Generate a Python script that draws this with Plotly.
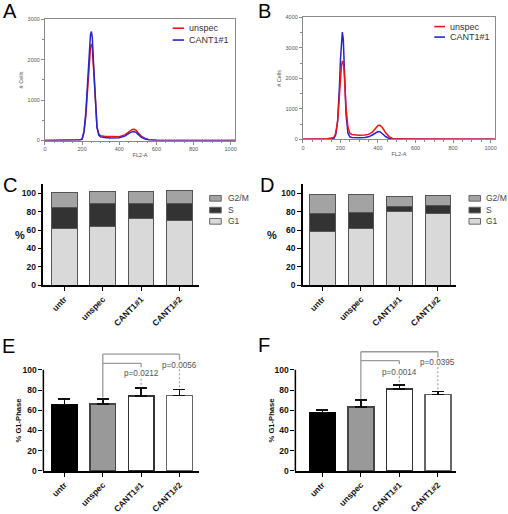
import plotly.graph_objects as go

W, H = 508, 514
FONT = "Arial, Liberation Sans, sans-serif"

# ---------------- data ----------------
# Panel A histogram (FL2-A vs # cells)
hist_a_x = [0, 40, 50, 100, 150, 190, 200, 210, 220, 230, 240, 245, 250, 255, 260, 270, 280, 290,
            300, 320, 350, 400, 430, 450, 460, 470, 480, 490, 500, 520, 540, 560, 600, 650, 700, 800, 1000, 1023]
hist_a_unspec = [0, 0, 10, 12, 12, 15, 40, 200, 600, 1300, 2000, 2300, 2390, 2300, 1900, 1000, 350, 160,
                 120, 105, 95, 95, 140, 210, 250, 275, 280, 260, 200, 100, 50, 20, 8, 3, 0, 0, 0, 0]
hist_a_cant = [0, 0, 8, 10, 10, 12, 35, 220, 700, 1500, 2300, 2620, 2700, 2550, 2050, 1000, 320, 130,
               90, 75, 65, 70, 110, 170, 200, 220, 225, 205, 160, 80, 40, 15, 5, 2, 0, 0, 0, 0]
# Panel B histogram
hist_b_x = [0, 100, 130, 150, 165, 175, 185, 190, 195, 200, 205, 210, 215, 220, 225, 230, 240, 250, 260,
            280, 300, 330, 350, 370, 380, 390, 400, 410, 420, 430, 440, 460, 480, 500, 600, 800, 1023]
hist_b_unspec = [0, 0, 20, 40, 60, 200, 600, 1000, 1500, 2000, 2400, 2550, 2550, 2200, 1600, 1000, 400, 200, 160,
                 140, 135, 140, 160, 230, 300, 380, 450, 460, 410, 320, 220, 80, 20, 5, 0, 0, 0]
hist_b_cant = [0, 0, 5, 10, 30, 150, 600, 1100, 1800, 2600, 3200, 3520, 3300, 2500, 1500, 800, 200, 80, 60,
               50, 50, 55, 80, 140, 180, 220, 255, 250, 210, 150, 90, 25, 5, 0, 0, 0, 0]
hist_series = ["unspec", "CANT1#1"]
hist_colors = ["#f01414", "#2626cc"]

conditions = ["untr", "unspec", "CANT1#1", "CANT1#2"]
phases = ["G1", "S", "G2/M"]
phase_colors = ["#d9d9d9", "#333333", "#a3a3a3"]

# Panel C (% of cells per phase)
c_g1 = [62.0, 63.7, 73.0, 70.5]
c_s = [22.7, 25.3, 16.0, 18.1]
c_g2m = [16.0, 12.4, 12.8, 13.9]
# Panel D
d_g1 = [58.4, 61.2, 80.4, 78.0]
d_s = [19.6, 17.4, 5.4, 8.5]
d_g2m = [20.2, 19.6, 11.0, 11.4]

# Panel E / F (% G1-phase, mean and SD)
e_mean = [65.7, 66.3, 74.1, 74.8]
e_err = [5.2, 4.9, 7.8, 5.8]
f_mean = [57.9, 63.4, 81.2, 75.7]
f_err = [2.3, 6.5, 3.9, 2.9]
e_pvalues = ["p=0.0212", "p=0.0056"]
f_pvalues = ["p=0.0014", "p=0.0395"]
compare_ref = "unspec"
compare_to = ["CANT1#1", "CANT1#2"]

bar_fill = ["#000000", "#999999", "#ffffff", "#ffffff"]
bar_edge = ["#000000", "#444444", "#333333", "#666666"]


def fx(px):
    return px / W


def fy(py):
    return 1 - py / H


fig = go.Figure()

# ---------------- histograms ----------------
for ax, xs, series, order in [
    ("", hist_a_x, [hist_a_unspec, hist_a_cant], [0, 1]),
    ("2", hist_b_x, [hist_b_unspec, hist_b_cant], [1, 0]),
]:
    for i in order:
        fig.add_trace(go.Scatter(x=xs, y=series[i], mode="lines", name=hist_series[i],
                                 line=dict(color=hist_colors[i], width=1.5),
                                 xaxis="x" + ax, yaxis="y" + ax, showlegend=False))

# ---------------- stacked bars C / D ----------------
for ax, vals in [("3", [c_g1, c_s, c_g2m]), ("4", [d_g1, d_s, d_g2m])]:
    for name, v, col in zip(phases, vals, phase_colors):
        fig.add_trace(go.Bar(x=conditions, y=v, name=name, width=0.67,
                             marker=dict(color=col, line=dict(color="#555555", width=1)),
                             xaxis="x" + ax, yaxis="y" + ax, showlegend=False))

# ---------------- bars with error E / F ----------------
for ax, m, e in [("5", e_mean, e_err), ("6", f_mean, f_err)]:
    fig.add_trace(go.Bar(x=conditions, y=m, width=0.67,
                         marker=dict(color=bar_fill, line=dict(color=bar_edge, width=1.5)),
                         error_y=dict(type="data", array=e, arrayminus=[0] * len(e), symmetric=False,
                                      color="#111111", thickness=1.5, width=6),
                         xaxis="x" + ax, yaxis="y" + ax, showlegend=False))

# ---------------- axes ----------------
tickfont_small = dict(family=FONT, size=5.5, color="#555555")


def hist_axes(xdom, ydom, ymax, anchor_x, anchor_y):
    xa = dict(domain=xdom, range=[0, 1024], anchor=anchor_y, tickvals=[0, 200, 400, 600, 800, 1000],
              showline=True, mirror=True, linecolor="#8a8a8a", linewidth=1, ticks="outside", ticklen=3,
              tickcolor="#8a8a8a", tickfont=tickfont_small, showgrid=False, zeroline=False,
              minor=dict(ticks="outside", ticklen=1.5, dtick=50, tickcolor="#8a8a8a"),
              title=dict(text="FL2-A", font=tickfont_small, standoff=2))
    ya = dict(domain=ydom, range=[0, ymax], anchor=anchor_x, dtick=1000,
              showline=True, mirror=True, linecolor="#8a8a8a", linewidth=1, ticks="outside", ticklen=3,
              tickcolor="#8a8a8a", tickfont=tickfont_small, showgrid=False, zeroline=False,
              minor=dict(ticks="outside", ticklen=1.5, dtick=500, tickcolor="#8a8a8a"),
              title=dict(text="# Cells", font=tickfont_small, standoff=3))
    return xa, ya


xa1, ya1 = hist_axes([fx(43.3), fx(235)], [fy(140), fy(16.7)], 3000, "x", "y")
xa2, ya2 = hist_axes([fx(303.3), fx(497)], [fy(138.7), fy(14.7)], 4000, "x2", "y2")

boldfont = dict(family=FONT, size=8.5, color="#111111", weight="bold")


def cat_xaxis(xdom, rng, anchor_y):
    return dict(domain=xdom, range=rng, anchor=anchor_y, type="category", tickangle=-45,
                showline=True, linecolor="#000000", linewidth=1.5, ticks="outside", ticklen=4,
                tickwidth=1.2, tickcolor="#000000", tickfont=boldfont, showgrid=False, zeroline=False)


def val_yaxis(ydom, rng, anchor_x, showline=True):
    return dict(domain=ydom, range=rng, anchor=anchor_x, tickvals=[0, 20, 40, 60, 80, 100],
                showline=showline, linecolor="#000000", linewidth=1.5, ticks="outside", ticklen=4,
                tickwidth=1.2, tickcolor="#000000", tickfont=boldfont, showgrid=False, zeroline=False)


xa3 = cat_xaxis([fx(41.7), fx(199)], [-0.55, 3.52], "y3")
ya3 = val_yaxis([fy(287.3), fy(184.3)], [0, 110], "x3")
xa4 = cat_xaxis([fx(303.3), fx(458)], [-0.51, 3.48], "y4")
ya4 = val_yaxis([fy(287.3), fy(184.3)], [0, 110], "x4")
xa5 = cat_xaxis([fx(41.7), fx(199)], [-0.55, 3.52], "y5")
ya5 = val_yaxis([fy(476.3), fy(352.7)], [0, 120], "x5", showline=False)
xa6 = cat_xaxis([fx(295.7), fx(458)], [-0.70, 3.48], "y6")
ya6 = val_yaxis([fy(476.3), fy(352.7)], [0, 120], "x6", showline=False)

shapes = []
annotations = []

# y axis lines of E/F only up to 100
for ax in ["5", "6"]:
    shapes.append(dict(type="line", xref="x" + ax + " domain", yref="y" + ax, x0=0, x1=0, y0=0, y1=100,
                       line=dict(color="#000000", width=1.5)))

# ---------------- significance brackets ----------------
BR = "#9a9a9a"


def brackets(ax, means, errs, pvals, top_levels, inner_levels, text_levels, dash_tops):
    ref = conditions.index(compare_ref)
    xr, yr = "x" + ax, "y" + ax
    leg_bottom = means[ref] + errs[ref] + 1.5
    shapes.append(dict(type="line", xref=xr, yref=yr, x0=ref, x1=ref, y0=leg_bottom, y1=top_levels[1],
                       line=dict(color=BR, width=1.3)))
    for k, target in enumerate(compare_to):
        t = conditions.index(target)
        shapes.append(dict(type="line", xref=xr, yref=yr, x0=ref, x1=t, y0=top_levels[k], y1=top_levels[k],
                           line=dict(color=BR, width=1.3)))
        shapes.append(dict(type="line", xref=xr, yref=yr, x0=t, x1=t, y0=top_levels[k], y1=inner_levels[k],
                           line=dict(color=BR, width=1.3)))
        shapes.append(dict(type="line", xref=xr, yref=yr, x0=t, x1=t, y0=dash_tops[k],
                           y1=means[t] + errs[t] + 1.5,
                           line=dict(color=BR, width=1.1, dash="2px,2px")))
        annotations.append(dict(xref=xr, yref=yr, x=t, y=text_levels[k], text=pvals[k], showarrow=False,
                                xanchor="center", yanchor="middle",
                                font=dict(family=FONT, size=8.2, color="#555555")))


brackets("5", e_mean, e_err, e_pvalues, [106.4, 115.5], [102.5, 110.0], [96.2, 104.2], [91.0, 100.5])
brackets("6", f_mean, f_err, f_pvalues, [109.0, 117.8], [105.8, 112.2], [97.7, 107.0], [93.5, 102.5])

# ---------------- custom legends ----------------
legfont = dict(family=FONT, size=9, color="#333333")
for (x0, x1, tx, ys) in [(172, 183.5, 186.5, [25.7, 37.7]), (435.7, 446.5, 450, [24.0, 34.7])]:
    for name, col, yy in zip(hist_series, hist_colors, ys):
        shapes.append(dict(type="line", xref="paper", yref="paper", x0=fx(x0), x1=fx(x1), y0=fy(yy), y1=fy(yy),
                           line=dict(color=col, width=1.6)))
        annotations.append(dict(xref="paper", yref="paper", x=fx(tx), y=fy(yy), text=name, showarrow=False,
                                xanchor="left", yanchor="middle", font=legfont))

for (x0, x1, tx) in [(209.3, 221, 225.5), (470.7, 482.3, 485.5)]:
    for name, col, yy in zip(phases[::-1], phase_colors[::-1], [198.8, 210.8, 222.2]):
        shapes.append(dict(type="rect", xref="paper", yref="paper", x0=fx(x0), x1=fx(x1),
                           y0=fy(yy + 2.9), y1=fy(yy - 2.9), fillcolor=col,
                           line=dict(color="#666666", width=1)))
        annotations.append(dict(xref="paper", yref="paper", x=fx(tx), y=fy(yy), text=name, showarrow=False,
                                xanchor="left", yanchor="middle",
                                font=dict(family=FONT, size=8.5, color="#444444")))

# axis labels for C-F
for xx, yy in [(18, 236), (272, 236)]:
    annotations.append(dict(xref="paper", yref="paper", x=fx(xx), y=fy(yy), text="%", showarrow=False,
                            xanchor="center", yanchor="middle",
                            font=dict(family=FONT, size=11, color="#111111", weight="bold")))
for xx, yy in [(17, 425), (272, 425)]:
    annotations.append(dict(xref="paper", yref="paper", x=fx(xx), y=fy(yy), text="% G1-Phase", showarrow=False,
                            textangle=-90, xanchor="center", yanchor="middle",
                            font=dict(family=FONT, size=7.6, color="#111111", weight="bold")))

# panel letters
for letter, xx, yy in [("A", -1, 8.0), ("B", 256.5, 8.3), ("C", -1, 185.0), ("D", 258, 185.5),
                       ("E", -2, 349.0), ("F", 256, 348.5)]:
    annotations.append(dict(xref="paper", yref="paper", x=fx(xx), y=fy(yy), text=letter, showarrow=False,
                            xanchor="left", yanchor="middle",
                            font=dict(family=FONT, size=20, color="#000000")))

fig.update_layout(
    width=W, height=H, margin=dict(l=0, r=0, t=0, b=0),
    paper_bgcolor="white", plot_bgcolor="white",
    barmode="stack", showlegend=False,
    font=dict(family=FONT),
    xaxis=xa1, yaxis=ya1, xaxis2=xa2, yaxis2=ya2, xaxis3=xa3, yaxis3=ya3,
    xaxis4=xa4, yaxis4=ya4, xaxis5=xa5, yaxis5=ya5, xaxis6=xa6, yaxis6=ya6,
    shapes=shapes, annotations=annotations,
)

fig.write_html("out.html", config={"displayModeBar": False},
               post_script="document.body.style.margin='0px';document.body.style.overflow='hidden';")
